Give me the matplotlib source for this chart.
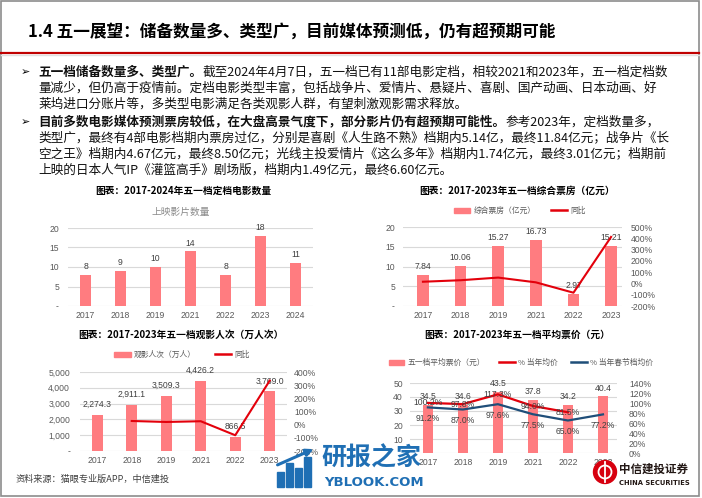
import matplotlib
matplotlib.use('Agg')
import matplotlib.pyplot as plt
from matplotlib.patches import Patch, Rectangle, Circle
from matplotlib.lines import Line2D

W, H = 702, 498
CJK = ['Noto Sans CJK SC', 'DejaVu Sans']
NUM = ['Liberation Sans', 'Noto Sans CJK SC', 'DejaVu Sans']
plt.rcParams['font.family'] = NUM

BAR = '#ff7c80'
RED = '#e3000b'
BLUE = '#1f4e79'
GRID = '#d9d9d9'
TICK = '#595959'
LAB = '#404040'

# ---- data ----
years_count = ['2017', '2018', '2019', '2021', '2022', '2023', '2024']
film_count = [8, 9, 10, 14, 8, 18, 11]

years = ['2017', '2018', '2019', '2021', '2022', '2023']
box_office = [7.84, 10.06, 15.27, 16.73, 2.97, 15.21]      # 亿元
box_yoy = [15.0, 28.3, 51.8, 9.6, -82.2, 412.1]             # %

admissions = [2274.3, 2911.1, 3509.3, 4426.2, 866.5, 3769.0]  # 万人次
adm_yoy = [28.0, 20.5, 26.1, -80.4, 335.0]                   # % , 2018 onwards

avg_price = [34.5, 34.6, 43.5, 37.8, 34.2, 40.4]             # 元
pct_year = [100.2, 97.8, 117.3, 94.0, 81.5]                  # % 当年均价, 2017-2022
pct_spring = [91.2, 87.0, 97.6, 77.5, 65.0, 77.2]            # % 当年春节档均价

fig = plt.figure(figsize=(W / 100, H / 100), dpi=100)

# overlay in pixel coordinates for slide decoration and body text
bg = fig.add_axes([0, 0, 1, 1])
bg.set_xlim(0, W)
bg.set_ylim(H, 0)
bg.axis('off')
bg.set_zorder(10)

bg.add_patch(Rectangle((1, 1), 698, 495, fill=False, ec='#8c8c8c', lw=1.2))
bg.plot([1, 699], [52.5, 52.5], color='#c00000', lw=1.6)
bg.plot([1, 699], [54.5, 54.5], color='#e0e0e0', lw=1.0)
bg.text(28, 32, '1.4 五一展望：储备数量多、类型广，目前媒体预测低，仍有超预期可能',
        fontsize=12, fontweight='bold', family=CJK, va='center')

renderer = fig.canvas.get_renderer()


def body_line(y, parts, x=38):
    for s, bold in parts:
        t = bg.text(x, y, s, fontsize=9.1, fontweight='bold' if bold else 'normal',
                    family=CJK, va='center', ha='left', color='#111111')
        x += t.get_window_extent(renderer).width


for yb in (72, 122):
    bg.text(21, yb, '➢', fontsize=8, family='DejaVu Sans', va='center')

body_line(72, [('五一档储备数量多、类型广。', True),
               ('截至2024年4月7日，五一档已有11部电影定档，相较2021和2023年，五一档定档数', False)])
body_line(88, [('量减少，但仍高于疫情前。定档电影类型丰富，包括战争片、爱情片、悬疑片、喜剧、国产动画、日本动画、好', False)])
body_line(104, [('莱坞进口分账片等，多类型电影满足各类观影人群，有望刺激观影需求释放。', False)])
body_line(122, [('目前多数电影媒体预测票房较低，在大盘高景气度下，部分影片仍有超预期可能性。', True),
                ('参考2023年，定档数量多，', False)])
body_line(138, [('类型广，最终有4部电影档期内票房过亿，分别是喜剧《人生路不熟》档期内5.14亿，最终11.84亿元；战争片《长', False)])
body_line(154, [('空之王》档期内4.67亿元，最终8.50亿元；光线主投爱情片《这么多年》档期内1.74亿元，最终3.01亿元；档期前', False)])
body_line(170, [('上映的日本人气IP《灌篮高手》剧场版，档期内1.49亿元，最终6.60亿元。', False)])

# chart titles
for cx, cy, s in [(183, 191, '图表：2017-2024年五一档定档电影数量'),
                  (517, 191, '图表：2017-2023年五一档综合票房（亿元）'),
                  (181, 335, '图表：2017-2023年五一档观影人次（万人次）'),
                  (517, 335, '图表：2017-2023年五一档平均票价（元）')]:
    bg.text(cx, cy, s, fontsize=7, fontweight='bold', family=CJK, ha='center', va='center')

bg.text(16, 479, '资料来源：猫眼专业版APP，中信建投', fontsize=6.6, family=CJK,
        color=LAB, va='center')


def make_axes(x0, x1, ytop, ybot):
    ax = fig.add_axes([x0 / W, 1 - ybot / H, (x1 - x0) / W, (ybot - ytop) / H])
    for s in ax.spines.values():
        s.set_visible(False)
    ax.grid(axis='y', color=GRID, lw=0.8)
    ax.set_axisbelow(True)
    ax.tick_params(length=0, labelsize=6.2, colors=TICK)
    ax.tick_params(axis='x', pad=3.5)
    return ax


def right_axis(ax, lo, hi, step, pad):
    r = ax.twinx()
    for s in r.spines.values():
        s.set_visible(False)
    r.set_ylim(lo, hi)
    ticks = list(range(lo, hi + 1, step))
    r.set_yticks(ticks)
    r.set_yticklabels([f'{t}%' for t in ticks])
    r.tick_params(length=0, labelsize=6.2, colors=TICK, pad=pad)
    return r


def bar_labels(ax, xs, vals, fmt, off=6):
    for i, v in zip(xs, vals):
        ax.annotate(fmt.format(v), (i, v), xytext=(0, off), textcoords='offset points',
                    ha='center', va='center', fontsize=6.2, color=LAB)


# ---- chart 1: number of films ----
ax1 = make_axes(68, 313, 228, 306)
x1 = list(range(len(years_count)))
ax1.bar(x1, film_count, width=0.32, color=BAR)
ax1.set_xlim(-0.5, 6.5)
ax1.set_ylim(0, 20)
ax1.set_xticks(x1)
ax1.set_xticklabels(years_count)
ax1.set_yticks([0, 5, 10, 15, 20])
ax1.set_yticklabels(['-', '5', '10', '15', '20'])
ax1.tick_params(axis='y', pad=6.5)
bar_labels(ax1, x1, film_count, '{}')
bg.text(181, 212, '上映影片数量', fontsize=7, family=CJK, color='#8c8c8c', ha='center', va='center')

# ---- chart 2: box office ----
x = list(range(len(years)))
ax2 = make_axes(403, 622, 227, 306)
ax2.bar(x, box_office, width=0.31, color=BAR)
ax2.set_xlim(-0.53, 5.29)
ax2.set_ylim(0, 20)
ax2.set_xticks(x)
ax2.set_xticklabels(years)
ax2.set_yticks([0, 5, 10, 15, 20])
ax2.set_yticklabels(['-', '5', '10', '15', '20'])
ax2.tick_params(axis='y', pad=5.8)
bar_labels(ax2, x, box_office, '{:.2f}')
ax2r = right_axis(ax2, -200, 500, 100, 6.3)
ax2r.plot(x, box_yoy, color=RED, lw=1.5)
fig.legend([Patch(color=BAR), Line2D([], [], color=RED, lw=1.8)], ['综合票房（亿元）', '同比'],
           loc='center', bbox_to_anchor=(520 / W, 1 - 211 / H), ncol=2, frameon=False,
           prop={'family': CJK, 'size': 5.6}, labelcolor=TICK, handlelength=2.1,
           handletextpad=0.4, columnspacing=2.0)

# ---- chart 3: admissions ----
ax3 = make_axes(80, 287, 372, 451)
ax3.bar(x, admissions, width=0.31, color=BAR)
ax3.set_xlim(-0.5, 5.5)
ax3.set_ylim(0, 5000)
ax3.set_xticks(x)
ax3.set_xticklabels(years)
ax3.set_yticks(range(0, 5001, 1000))
ax3.set_yticklabels(['-', '1,000', '2,000', '3,000', '4,000', '5,000'])
ax3.tick_params(axis='y', pad=7.2)
bar_labels(ax3, x, admissions, '{:,.1f}', off=7.5)
ax3r = right_axis(ax3, -200, 400, 100, 5)
ax3r.plot(x[1:], adm_yoy, color=RED, lw=1.5)
fig.legend([Patch(color=BAR), Line2D([], [], color=RED, lw=1.8)], ['观影人次（万人）', '同比'],
           loc='center', bbox_to_anchor=(182 / W, 1 - 355 / H), ncol=2, frameon=False,
           prop={'family': CJK, 'size': 5.6}, labelcolor=TICK, handlelength=2.1,
           handletextpad=0.4, columnspacing=2.4)

# ---- chart 4: average ticket price ----
ax4 = make_axes(410, 617, 383, 453)
ax4.bar(x, avg_price, width=0.3, color=BAR)
ax4.set_xlim(-0.51, 5.4)
ax4.set_ylim(0, 50)
ax4.set_xticks(x)
ax4.set_xticklabels(years)
ax4.set_yticks(range(0, 51, 10))
ax4.set_yticklabels(['', '10', '20', '30', '40', '50'])  # zero label sits under the watermark
ax4.tick_params(axis='y', pad=5)
bar_labels(ax4, x, avg_price, '{:.1f}')
ax4r = right_axis(ax4, 0, 140, 20, 8.6)
ax4r.plot(x[:len(pct_year)], pct_year, color=RED, lw=1.6)
ax4r.plot(x, pct_spring, color=BLUE, lw=1.6)
for i, v in zip(x, pct_year):
    ax4r.annotate(f'{v:.1f}%', (i, v), ha='center', va='center', fontsize=6.2, color=LAB)
for i, v in zip(x, pct_spring):
    ax4r.annotate(f'{v:.1f}%', (i, v), xytext=(0, -8), textcoords='offset points',
                  ha='center', va='center', fontsize=6.2, color=LAB)
fig.legend([Patch(color=BAR), Line2D([], [], color=RED, lw=1.8), Line2D([], [], color=BLUE, lw=1.8)],
           ['五一档平均票价（元）', '% 当年均价', '% 当年春节档均价'],
           loc='center', bbox_to_anchor=(521 / W, 1 - 363 / H), ncol=3, frameon=False,
           prop={'family': CJK, 'size': 5.6}, labelcolor=TICK, handlelength=2.0,
           handletextpad=0.4, columnspacing=1.8)

# ---- watermark and logo ----
WM = '#1f6fb4'
for bx, top in [(277, 472), (286, 463), (295, 468), (304, 457)]:
    bg.add_patch(Rectangle((bx, top), 6.5, 487 - top, color=WM))
bg.annotate('', xy=(316, 448), xytext=(275, 466),
            arrowprops=dict(arrowstyle='-|>', color=WM, lw=2.2, mutation_scale=10))
bg.text(321, 458, '研报之家', fontsize=18, fontweight='bold', family=CJK, color=WM, va='center')
bg.text(324, 482, 'YBLOOK.COM', fontsize=9.5, fontweight='bold', family='DejaVu Sans',
        color=WM, va='center')

bg.add_patch(Circle((605, 472), 11.5, color='#d7000f'))
bg.add_patch(Circle((605, 472), 6.5, fill=False, ec='white', lw=1.3))
bg.plot([605, 605], [462, 482], color='white', lw=1.3)
bg.text(619, 469, '中信建投证券', fontsize=8.3, fontweight='bold', family=CJK,
        color='#231815', va='center')
bg.text(619, 482.5, 'CHINA SECURITIES', fontsize=4.9, fontweight='bold', family='DejaVu Sans',
        color='#231815', va='center')

fig.savefig('out.png', dpi=100)
